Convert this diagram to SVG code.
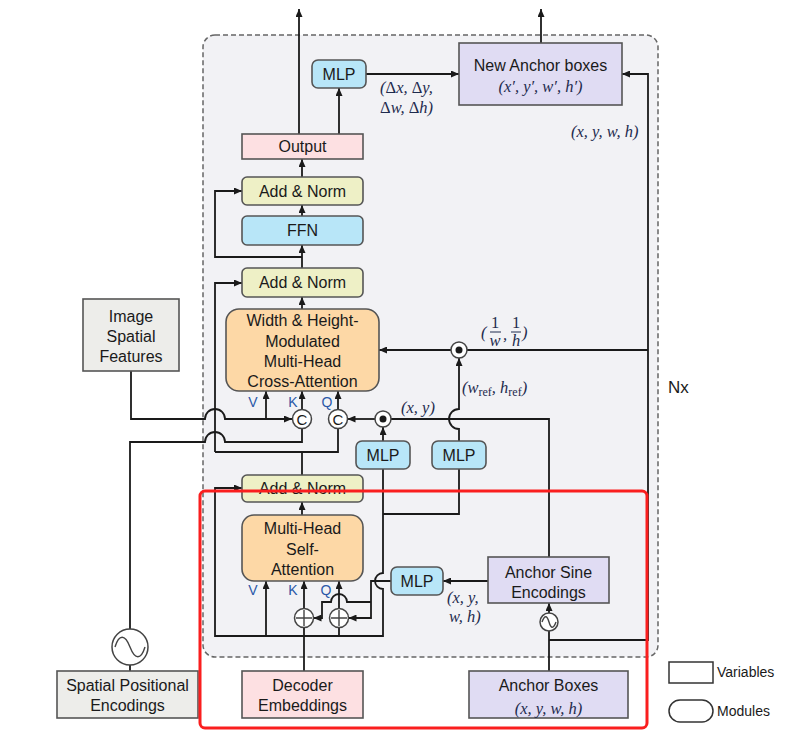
<svg xmlns="http://www.w3.org/2000/svg" width="811" height="739" viewBox="0 0 811 739">
<defs>
<marker id="ah" viewBox="0 0 8 7" refX="8" refY="3.5" markerWidth="8" markerHeight="7" markerUnits="userSpaceOnUse" orient="auto"><path d="M0,0 L8,3.5 L0,7 z" fill="#1a1a1a"/></marker>
<style>
.ln{fill:none;stroke:#1a1a1a;stroke-width:1.8}
.a{marker-end:url(#ah)}
.bx{stroke:#555;stroke-width:1.6}
.var{fill:#e0dcf3}
.att{fill:#fdd8a6}
.an{fill:#eef0c6}
.bl{fill:#b8e6f8}
.pk{fill:#fde0e2}
.gr{fill:#ededea}
.t{font-family:"Liberation Sans",Arial,sans-serif;font-size:16px;fill:#1a1a1a;text-anchor:middle}
.m{font-family:"Liberation Serif","Times New Roman",serif;font-style:italic;font-size:16.5px;fill:#1e2b4e}
.u{font-style:normal}
.lb{font-family:"Liberation Sans",Arial,sans-serif;font-size:14px;fill:#2b58a8;text-anchor:middle}
.op{fill:#fff;stroke:#444;stroke-width:1.5}
.sym{fill:none;stroke:#444;stroke-width:1.4}
</style>
</defs>
<rect x="0" y="0" width="811" height="739" fill="#fff"/>
<rect x="203" y="35" width="455" height="622" rx="12" fill="#f2f2f5" stroke="#666" stroke-width="1.5" stroke-dasharray="5,3"/>

<g id="connectors">
<path class="ln a" d="M299,134 V9"/>
<path class="ln a" d="M339,134 V88"/>
<path class="ln a" d="M366,74 H459"/>
<path class="ln a" d="M541,43 V9"/>
<path class="ln a" d="M549,640 H648 V74 H622"/>
<path class="ln a" d="M302,177 V159"/>
<path class="ln a" d="M302,216 V205"/>
<path class="ln a" d="M302,268 V245"/>
<path class="ln a" d="M302,257 H215 V191 H242"/>
<path class="ln a" d="M302,309 V297"/>
<path class="ln" d="M302,475 V452"/>
<path class="ln" d="M215,452 H338 V428.5"/>
<path class="ln a" d="M215,452 V283 H242"/>
<path class="ln a" d="M302,409.5 V391"/>
<path class="ln a" d="M338,409.5 V391"/>
<path class="ln a" d="M131,371 V419 H205 A10,10 0 0 1 225,419 H292"/>
<path class="ln a" d="M266,419 V391"/>
<path class="ln" d="M130,629 V442 H205 A10,10 0 0 1 225,442 H302 V428.5"/>
<path class="ln a" d="M375,419 H347.5"/>
<path class="ln" d="M549,557 V419 H391"/>
<path class="ln a" d="M383,441 V427"/>
<path class="ln a" d="M459,441 V429 A10,10 0 0 1 459,409 V358"/>
<path class="ln" d="M648,350 H467"/>
<path class="ln a" d="M451,350 H379"/>
<path class="ln a" d="M383,469 V573 A8,8 0 0 0 383,589 V636 H215 V488 H242"/>
<path class="ln" d="M459,469 V514 H383"/>
<path class="ln a" d="M266,636 V581"/>
<path class="ln" d="M339,627.5 V636"/>
<path class="ln" d="M304,671 V627.5"/>
<path class="ln a" d="M304,608.5 V581"/>
<path class="ln a" d="M339,608.5 V581"/>
<path class="ln a" d="M302,515 V502"/>
<path class="ln a" d="M391,581 H371 V618 H348.5"/>
<path class="ln a" d="M371,602 H347 A8,8 0 0 0 331,602 H322 V618 H313.5"/>
<path class="ln a" d="M488,581 H443"/>
<path class="ln" d="M549,671 V631"/>
<path class="ln a" d="M549,613 V603"/>
<path class="ln" d="M130,665 V671"/>
</g>

<g id="output"><rect class="bx pk" x="242" y="134" width="121" height="25"/><text class="t" x="302.5" y="152">Output</text></g>
<g id="mlp_top"><rect class="bx bl" x="312" y="60" width="54" height="28" rx="6"/><text class="t" x="339" y="80">MLP</text></g>
<g id="new_anchor"><rect class="bx var" x="459" y="43" width="163" height="62"/><text class="t" x="540.5" y="71">New Anchor boxes</text><text class="m" x="540.5" y="92" text-anchor="middle">(x′, y′, w′, h′)</text></g>
<g id="addnorm1"><rect class="bx an" x="242" y="177" width="121" height="28" rx="5"/><text class="t" x="302.5" y="197">Add &amp; Norm</text></g>
<g id="ffn"><rect class="bx bl" x="242" y="216" width="121" height="29" rx="5"/><text class="t" x="302.5" y="236">FFN</text></g>
<g id="addnorm2"><rect class="bx an" x="242" y="268" width="121" height="29" rx="5"/><text class="t" x="302.5" y="288">Add &amp; Norm</text></g>
<g id="cross_attn"><rect class="bx att" x="226" y="309" width="153" height="82" rx="13"/>
<text class="t" x="302.5" y="326">Width &amp; Height-</text><text class="t" x="302.5" y="346.5">Modulated</text><text class="t" x="302.5" y="366.5">Multi-Head</text><text class="t" x="302.5" y="386.5">Cross-Attention</text></g>
<g id="image_features"><rect class="bx gr" x="83" y="299" width="96" height="72"/><text class="t" x="131" y="322">Image</text><text class="t" x="131" y="342">Spatial</text><text class="t" x="131" y="362">Features</text></g>
<g id="concat_k"><circle class="op" cx="302" cy="419" r="9.5"/><text class="t" x="302" y="424.5" style="font-size:15px">C</text></g>
<g id="concat_q"><circle class="op" cx="338" cy="419" r="9.5"/><text class="t" x="338" y="424.5" style="font-size:15px">C</text></g>
<g id="dot_xy"><circle class="op" cx="383" cy="419" r="8"/><circle cx="383" cy="419" r="3.5" fill="#1a1a1a"/></g>
<g id="dot_wh"><circle class="op" cx="459" cy="350" r="8"/><circle cx="459" cy="350" r="3.5" fill="#1a1a1a"/></g>
<g id="mlp_xy"><rect class="bx bl" x="356" y="441" width="54" height="28" rx="6"/><text class="t" x="383" y="461">MLP</text></g>
<g id="mlp_wh"><rect class="bx bl" x="432" y="441" width="54" height="28" rx="6"/><text class="t" x="459" y="461">MLP</text></g>
<g id="addnorm3"><rect class="bx an" x="242" y="475" width="121" height="27" rx="5"/><text class="t" x="302.5" y="494">Add &amp; Norm</text></g>
<g id="self_attn"><rect class="bx att" x="242" y="515" width="121" height="66" rx="12"/><text class="t" x="302.5" y="534">Multi-Head</text><text class="t" x="302.5" y="554.5">Self-</text><text class="t" x="302.5" y="575">Attention</text></g>
<g id="plus_k"><circle class="op" cx="304" cy="618" r="9.5"/><path class="sym" d="M296,618 H312 M304,610 V626"/></g>
<g id="plus_q"><circle class="op" cx="339" cy="618" r="9.5"/><path class="sym" d="M331,618 H347 M339,610 V626"/></g>
<g id="mlp_pos"><rect class="bx bl" x="391" y="567" width="52" height="28" rx="6"/><text class="t" x="417" y="587">MLP</text></g>
<g id="anchor_sine"><rect class="bx var" x="488" y="557" width="121" height="46"/><text class="t" x="548.5" y="578">Anchor Sine</text><text class="t" x="548.5" y="598">Encodings</text></g>
<g id="sine_anchor"><circle class="op" cx="549" cy="622" r="9"/><path class="sym" d="M542,622 C544.5,615 547,615 549,622 C551,629 553.5,629 556,622"/></g>
<g id="anchor_boxes"><rect class="bx var" x="469" y="671" width="159" height="47"/><text class="t" x="548.5" y="691">Anchor Boxes</text><text class="m" x="548.5" y="714" text-anchor="middle">(x, y, w, h)</text></g>
<g id="decoder_emb"><rect class="bx pk" x="242" y="671" width="121" height="47"/><text class="t" x="302.5" y="691">Decoder</text><text class="t" x="302.5" y="711">Embeddings</text></g>
<g id="spatial_pos"><rect class="bx gr" x="57" y="671" width="141" height="47"/><text class="t" x="127.5" y="691">Spatial Positional</text><text class="t" x="127.5" y="711">Encodings</text></g>
<g id="sine_spatial"><circle class="op" cx="130" cy="647" r="18"/><path class="sym" d="M115,647 C119,634 125,634 130,647 C135,660 141,660 145,647"/></g>

<g id="labels">
<text class="m" x="380" y="93">(<tspan class="u">Δ</tspan>x, <tspan class="u">Δ</tspan>y,</text>
<text class="m" x="380" y="113"><tspan class="u">Δ</tspan>w, <tspan class="u">Δ</tspan>h)</text>
<text class="m" x="571" y="137">(x, y, w, h)</text>
<text class="m" x="401" y="413">(x, y)</text>
<text class="m" x="462" y="393">(w<tspan class="u" font-size="12" dy="3">ref</tspan><tspan dy="-3">, h</tspan><tspan class="u" font-size="12" dy="3">ref</tspan><tspan dy="-3">)</tspan></text>
<text class="m" x="447" y="603">(x, y,</text>
<text class="m" x="449" y="622">w, h)</text>
<text class="m" x="481" y="338">(</text>
<text class="m u" x="495" y="328" text-anchor="middle" font-size="14">1</text>
<line x1="490" y1="332" x2="501" y2="332" stroke="#1e2b4e" stroke-width="1"/>
<text class="m" x="495" y="346" text-anchor="middle">w</text>
<text class="m" x="503" y="340">,</text>
<text class="m u" x="516" y="328" text-anchor="middle" font-size="14">1</text>
<line x1="511" y1="332" x2="521" y2="332" stroke="#1e2b4e" stroke-width="1"/>
<text class="m" x="516" y="346" text-anchor="middle">h</text>
<text class="m" x="522" y="338">)</text>
<text class="lb" x="253" y="407">V</text>
<text class="lb" x="293" y="407">K</text>
<text class="lb" x="327" y="407">Q</text>
<text class="lb" x="253" y="595">V</text>
<text class="lb" x="293" y="595">K</text>
<text class="lb" x="326" y="595">Q</text>
<text x="668" y="393" style="font-family:'Liberation Sans',Arial,sans-serif;font-size:17px;fill:#1a1a1a">Nx</text>
</g>

<g id="legend">
<rect x="669" y="662" width="44" height="21" fill="#fff" stroke="#333" stroke-width="1.5"/>
<text x="717" y="677" style="font-family:'Liberation Sans',Arial,sans-serif;font-size:14px;fill:#1a1a1a">Variables</text>
<rect x="669" y="700" width="44" height="22" rx="11" fill="#fff" stroke="#333" stroke-width="1.5"/>
<text x="717" y="716" style="font-family:'Liberation Sans',Arial,sans-serif;font-size:14px;fill:#1a1a1a">Modules</text>
</g>

<rect x="200" y="491" width="447" height="237" rx="5" fill="none" stroke="#fa1e1e" stroke-width="3"/>
</svg>
